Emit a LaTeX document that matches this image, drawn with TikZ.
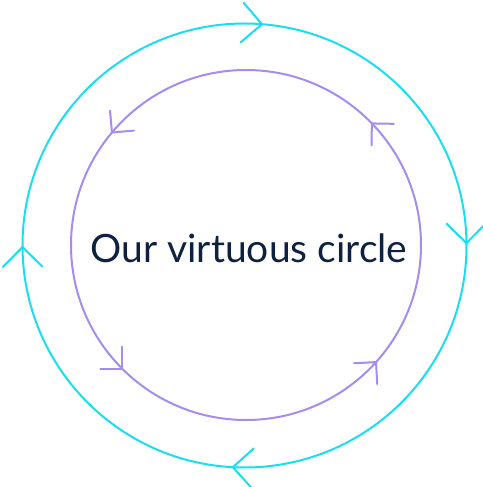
\documentclass[tikz,border=0pt]{standalone}
\usepackage{fontspec}
\setmainfont{Lato}
\usepackage{xcolor}
\definecolor{ringcyan}{RGB}{24,222,240}
\definecolor{ringpurple}{RGB}{164,140,240}
\definecolor{navytext}{RGB}{14,34,64}
\tikzset{
  ring/.style={line width=2pt},
  barb/.style={line width=2pt, line cap=round, line join=miter}
}
\begin{document}
\begin{tikzpicture}[x=1pt,y=1pt]
\useasboundingbox (-244.5,-241.5) rectangle (237.5,245.5);
% outer ring, clockwise
\draw[ring, ringcyan] (0,0) circle (222);
\foreach \a in {85.5,0.6,267,180.4} {
 \draw[barb, ringcyan] (\a:222) ++(\a+45:28) -- (\a:222) -- ++(\a+135:28);
}
% inner ring, counter-clockwise
\begin{scope}[shift={(1.5,0.5)}]
\draw[ring, ringpurple] (0,0) circle (175);
\foreach \a in {140,44,225,318} {
 \draw[barb, ringpurple] (\a:175) ++(\a-135:22) -- (\a:175) -- ++(\a-45:22);
}
\end{scope}
\node[anchor=base, text=navytext, font=\fontsize{39}{47}\selectfont, inner sep=0] (title) at (4.5,-16.5) {Our virtuous circle};
\end{tikzpicture}
\end{document}
